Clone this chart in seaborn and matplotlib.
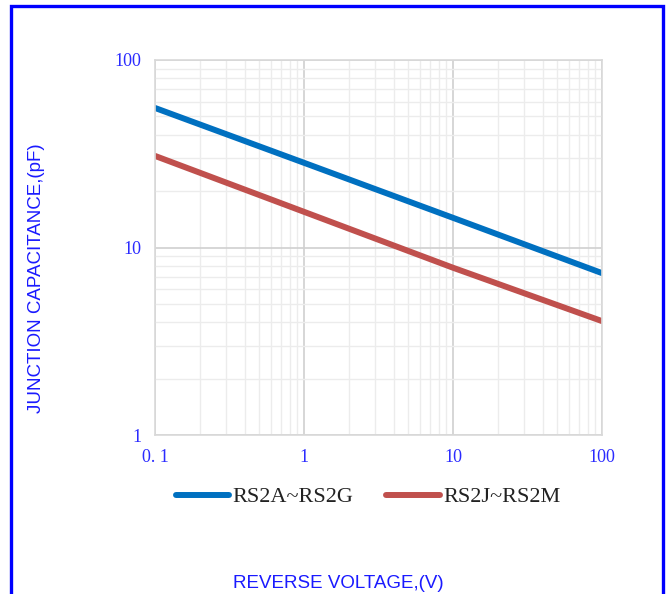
"""Junction capacitance vs reverse voltage (RS2A~RS2M)."""
import matplotlib.pyplot as plt
import matplotlib.patches as patches
import matplotlib.ticker as ticker
import numpy as np
import pandas as pd
import seaborn as sns

# values
voltage = [0.1, 1, 10, 100]
cap_rs2a_g = [55.5, 28.3, 14.4, 7.3]
cap_rs2j_m = [30.8, 15.5, 7.8, 4.05]
series_names = ["RS2A~RS2G", "RS2J~RS2M"]
x_ticks = [0.1, 1, 10, 100]
x_tick_labels = ["0. 1", "1", "10", "100"]
y_ticks = [1, 10, 100]
y_tick_labels = ["1", "10", "100"]

df = pd.DataFrame({
    "voltage": voltage * 2,
    "cap": cap_rs2a_g + cap_rs2j_m,
    "series": [series_names[0]] * len(voltage) + [series_names[1]] * len(voltage),
})

sns.set_theme(style="white")
plt.rcParams["font.family"] = ["Liberation Serif", "DejaVu Serif"]

fig = plt.figure(figsize=(6.72, 5.94), dpi=100)
ax = fig.add_axes([155 / 672, 1 - 435 / 594, 447 / 672, 375 / 594])

sns.lineplot(
    data=df, x="voltage", y="cap", hue="series",
    palette=["#0070C0", "#C0504D"], linewidth=4.3, ax=ax, legend=True,
)
ax.set_xscale("log")
ax.set_yscale("log")
ax.set_xlim(0.1, 100)
ax.set_ylim(1, 100)

ax.set_xticks(x_ticks)
ax.set_xticklabels(x_tick_labels)
ax.set_yticks(y_ticks)
ax.set_yticklabels(y_tick_labels)
ax.xaxis.set_minor_locator(ticker.LogLocator(base=10, subs=np.arange(2, 10)))
ax.yaxis.set_minor_locator(ticker.LogLocator(base=10, subs=np.arange(2, 10)))
ax.xaxis.set_minor_formatter(ticker.NullFormatter())
ax.yaxis.set_minor_formatter(ticker.NullFormatter())
ax.tick_params(which="both", length=0, colors="#2b2bff", labelsize=13)
ax.tick_params(axis="x", pad=10)
ax.tick_params(axis="y", pad=10)

ax.grid(which="major", color="#d0d0d0", linewidth=1.2)
ax.grid(which="minor", color="#ececec", linewidth=1.0)
ax.set_axisbelow(True)
for s in ax.spines.values():
    s.set_color("#d9d9d9")
    s.set_linewidth(1.2)

ax.set_xlabel("")
ax.set_ylabel("")
fig.text(338 / 672, 1 - 583 / 594, "REVERSE VOLTAGE,(V)", ha="center", va="center",
         color="#1a1aff", fontsize=13.5, family="Liberation Sans")
fig.text(37 / 672, 1 - 278 / 594, "JUNCTION CAPACITANCE,(pF)", ha="center", va="center",
         rotation=90, color="#1a1aff", fontsize=13.5, family="Liberation Sans")

handles, labels = ax.get_legend_handles_labels()
ax.legend_.remove()
fig.legend(handles, labels, loc="center", bbox_to_anchor=(368 / 672, 1 - 497 / 594),
           ncol=2, frameon=False, fontsize=16, handlelength=2.4, handletextpad=0.15,
           columnspacing=1.5, labelcolor="#222222")

fig.patches.append(patches.Rectangle(
    (11 / 672, -0.05), 652 / 672, 1.05 - 6 / 594, transform=fig.transFigure,
    fill=False, edgecolor="#0000ff", linewidth=2.4, figure=fig))

fig.savefig("out.png", dpi=100)
